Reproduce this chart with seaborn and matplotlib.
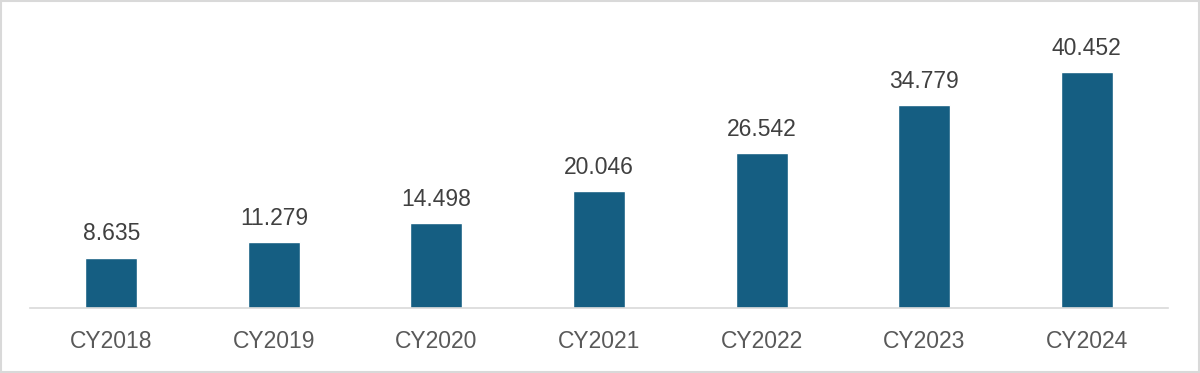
import matplotlib
matplotlib.use("Agg")
import matplotlib.pyplot as plt
import seaborn as sns
import pandas as pd
from matplotlib.patches import Rectangle

categories = ["CY2018", "CY2019", "CY2020", "CY2021", "CY2022", "CY2023", "CY2024"]
values = [8.635, 11.279, 14.498, 20.046, 26.542, 34.779, 40.452]
value_labels = ["8.635", "11.279", "14.498", "20.046", "26.542", "34.779", "40.452"]

sns.set_theme(style="white")
plt.rcParams["font.family"] = ["Liberation Sans", "DejaVu Sans"]

df = pd.DataFrame({"cat": categories, "val": values})

fig = plt.figure(figsize=(12, 3.73), dpi=100)
ax = fig.add_axes([0.025, 0.1743, 0.9483, 0.772])
sns.barplot(data=df, x="cat", y="val", color="#155E82", width=0.32, saturation=1, ax=ax)

ax.set_ylim(0, 49.4)
ax.set_xlim(-0.5, len(categories) - 0.5)
ax.set_xlabel("")
ax.set_ylabel("")
ax.set_yticks([])
for s in ["top", "right", "left"]:
    ax.spines[s].set_visible(False)
ax.spines["bottom"].set_color("#D9D9D9")
ax.spines["bottom"].set_linewidth(1.2)
ax.tick_params(axis="x", length=0, labelsize=16.5, colors="#595959", pad=16)

for i, (v, lab) in enumerate(zip(values, value_labels)):
    ax.annotate(lab, (i, v), xytext=(0, 9), textcoords="offset points",
                ha="center", va="bottom", fontsize=16.5, color="#404040")

fig.patches.append(Rectangle((0.001, 0.002), 0.998, 0.996, transform=fig.transFigure,
                             fill=False, edgecolor="#D9D9D9", linewidth=1.5))

fig.savefig("out.png", dpi=100, facecolor="white")
